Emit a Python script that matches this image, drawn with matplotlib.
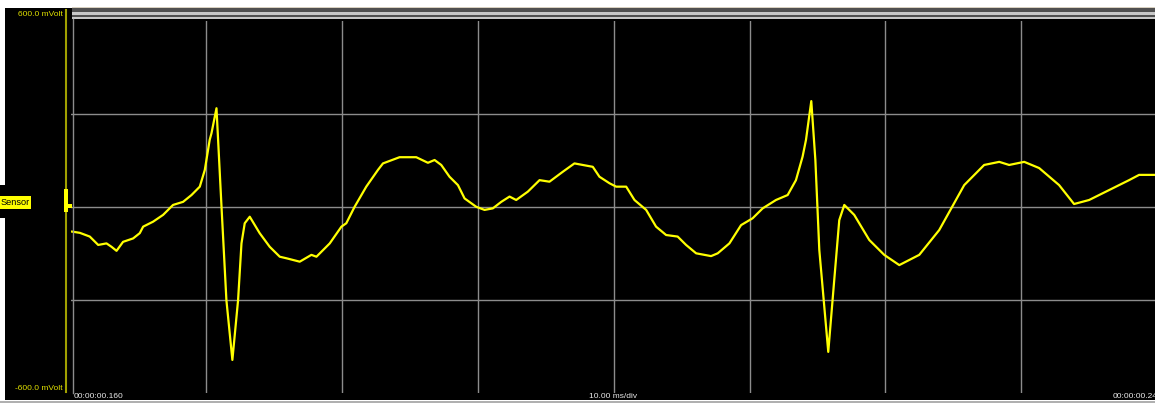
import matplotlib
matplotlib.use("Agg")
import matplotlib.pyplot as plt
from matplotlib.patches import Rectangle
from matplotlib.lines import Line2D
import numpy as np

# trace: time in ms, voltage in mV
time_ms = [160.12, 160.69, 161.42, 162.04, 162.65, 163.02, 163.39, 163.87, 164.61, 165.10,
           165.35, 166.08, 166.82, 167.55, 168.29, 168.91, 169.52, 169.89, 170.25, 170.38,
           170.75, 171.12, 171.48, 171.92, 172.34, 172.59, 172.83, 173.20, 173.93, 174.67,
           175.41, 175.90, 176.88, 177.74, 178.11, 179.09, 179.95, 180.31, 180.92, 181.78,
           182.64, 183.01, 184.23, 185.46, 186.32, 186.81, 187.30, 187.91, 188.53, 189.02,
           189.88, 190.49, 191.10, 191.72, 192.33, 192.82, 193.68, 194.54, 195.27, 196.25,
           197.11, 197.72, 198.46, 198.95, 199.69, 200.18, 200.92, 201.53, 202.39, 203.12,
           203.86, 204.71, 205.33, 206.07, 207.17, 207.66, 208.52, 209.38, 210.23, 210.97,
           211.95, 212.81, 213.42, 213.91, 214.16, 214.55, 214.85, 215.14, 215.80, 216.24,
           216.61, 216.98, 217.71, 218.82, 219.92, 221.03, 222.50, 223.97, 225.81, 227.28,
           228.39, 229.12, 230.23, 231.33, 232.80, 233.90, 235.01, 236.48, 237.95, 238.69,
           239.79]
volt_mv = [-81, -85, -97, -124, -119, -130, -143, -114, -103, -86,
           -65, -49, -27, 5, 15, 37, 64, 118, 215, 236,
           317, -1, -302, -495, -302, -119, -54, -33, -86, -130,
           -162, -167, -178, -156, -162, -119, -65, -54, -1, 64,
           118, 139, 159, 159, 141, 150, 134, 96, 69, 26,
           -1, -11, -6, 15, 32, 21, 48, 85, 80, 112,
           139, 134, 128, 96, 75, 64, 64, 21, -11, -65,
           -92, -97, -124, -151, -160, -151, -119, -60, -38, -6,
           21, 37, 85, 161, 215, 340, 150, -140, -469, -237,
           -44, 5, -27, -108, -156, -189, -156, -76, 69, 134,
           144, 134, 144, 124, 69, 8, 21, 53, 85, 102,
           102]

x_ticks = [170, 180, 190, 200, 210, 220, 230, 240]
y_ticks = [-300, 0, 300]
top_label = "600.0 mVolt"
bottom_label = "-600.0 mVolt"
channel = "Sensor"
start_label = "00:00:00.160"
end_label = "00:00:00.240"
scale_label = "10.00 ms/div"

W, H = 1155, 404
plt.rcParams['font.family'] = ['Liberation Sans', 'DejaVu Sans']


def px(x, y):
    return x / W, 1 - y / H


def rect(fig, x0, y0, x1, y1, color, z=0):
    fig.add_artist(Rectangle(px(x0, y1), (x1 - x0) / W, (y1 - y0) / H,
                             transform=fig.transFigure, facecolor=color,
                             edgecolor="none", zorder=z))


fig = plt.figure(figsize=(W / 100, H / 100), dpi=100, facecolor="black")

# window frame pieces
rect(fig, 0, 0, W, 8, "white")
rect(fig, 0, 0, 5, 185, "white")
rect(fig, 0, 218, 5, H, "white")
rect(fig, 0, 400, W, H, "white")
rect(fig, 0, 401, W, 402.5, "#b0b0b0")
rect(fig, 72, 7, W, 8.5, "#d8d0c0")
rect(fig, 72, 8.5, W, 12, "#505050")
rect(fig, 72, 12, W, 15, "#c8c8c8")
rect(fig, 72, 15, W, 16.5, "#505050")
rect(fig, 72, 16.5, W, 18.5, "#c8c8c8")

x0, y0 = px(70.5, 392.5)
ax = fig.add_axes([x0, y0, 8 * 135.8 / W, 372 / H])
ax.set_facecolor("black")
ax.set_xlim(160, 240)
ax.set_ylim(-600, 600)
ax.set_xticks(x_ticks)
ax.set_yticks(y_ticks)
ax.grid(True, color="#8c8c8c", linewidth=1)
ax.tick_params(length=0, labelbottom=False, labelleft=False)
for s in ax.spines.values():
    s.set_visible(False)

ax.plot(time_ms, volt_mv, color="#ffff00", linewidth=1.6, zorder=3)

# left border of the screen
fig.add_artist(Line2D([72.5 / W, 72.5 / W], [px(0, 392.5)[1], px(0, 18.5)[1]],
                      transform=fig.transFigure, color="#8c8c8c", linewidth=1))

# y-axis bar and channel marker
fig.add_artist(Line2D([66 / W, 66 / W], [px(0, 392)[1], px(0, 10)[1]],
                      transform=fig.transFigure, color="#a0a000", linewidth=1.5))
rect(fig, 64, 189, 68, 212, "#ffff00", 2)
rect(fig, 68, 203.5, 72, 207.5, "#ffff00", 2)

fs = 6
fig.text(*px(63, 15), top_label, color="#e0e000", fontsize=fs, ha="right", va="center")
fig.text(*px(63, 388), bottom_label, color="#e0e000", fontsize=fs, ha="right", va="center")
rect(fig, 0, 196, 31, 209, "#ffff00", 2)
fig.text(*px(0.5, 202.5), channel, color="black", fontsize=6.6, ha="left", va="center", zorder=3)
fig.text(*px(74, 397), start_label, color="#e8e8e8", fontsize=fs, ha="left", va="center")
fig.text(*px(613, 397), scale_label, color="#e8e8e8", fontsize=fs, ha="center", va="center")
fig.text(*px(1113, 397), end_label, color="#e8e8e8", fontsize=fs, ha="left", va="center")

fig.savefig("out.png", dpi=100, facecolor="black")
